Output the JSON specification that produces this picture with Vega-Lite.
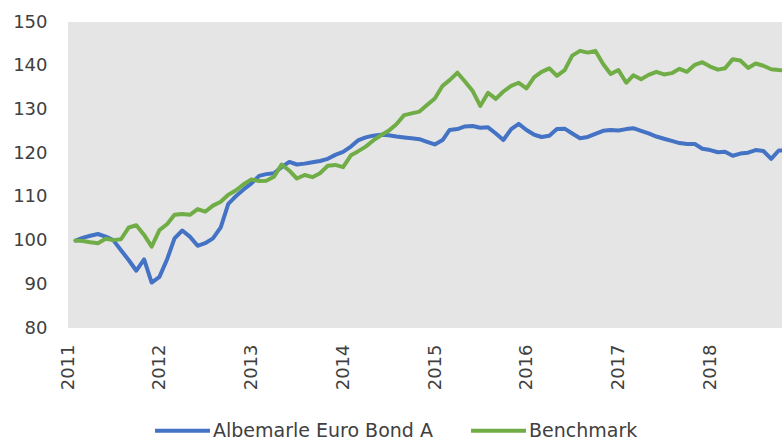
{
  "$schema": "https://vega.github.io/schema/vega-lite/v6.json",
  "autosize": {"type": "none"},
  "width": 714,
  "height": 306,
  "padding": {"left": 68, "top": 22, "right": 0, "bottom": 111},
  "background": "white",
  "view": {"fill": "#e5e5e5", "stroke": null},
  "config": {
    "font": "DejaVu Sans",
    "axis": {"labelFont": "DejaVu Sans", "labelFontSize": 18, "labelColor": "#404040", "domain": false, "ticks": false, "grid": false, "title": null},
    "legend": {"labelFont": "DejaVu Sans", "labelFontSize": 19, "labelColor": "#404040", "labelLimit": 400}
  },
  "data": {"values": [
    {"date":"2011-01-31","s":"Albemarle Euro Bond A","v":100.0},{"date":"2011-01-31","s":"Benchmark","v":100.0},
    {"date":"2011-02-28","s":"Albemarle Euro Bond A","v":100.6},{"date":"2011-02-28","s":"Benchmark","v":99.9},
    {"date":"2011-03-31","s":"Albemarle Euro Bond A","v":101.1},{"date":"2011-03-31","s":"Benchmark","v":99.6},
    {"date":"2011-04-30","s":"Albemarle Euro Bond A","v":101.5},{"date":"2011-04-30","s":"Benchmark","v":99.4},
    {"date":"2011-05-31","s":"Albemarle Euro Bond A","v":100.9},{"date":"2011-05-31","s":"Benchmark","v":100.4},
    {"date":"2011-06-30","s":"Albemarle Euro Bond A","v":100.1},{"date":"2011-06-30","s":"Benchmark","v":100.1},
    {"date":"2011-07-31","s":"Albemarle Euro Bond A","v":97.8},{"date":"2011-07-31","s":"Benchmark","v":100.3},
    {"date":"2011-08-31","s":"Albemarle Euro Bond A","v":95.5},{"date":"2011-08-31","s":"Benchmark","v":103.0},
    {"date":"2011-09-30","s":"Albemarle Euro Bond A","v":93.1},{"date":"2011-09-30","s":"Benchmark","v":103.5},
    {"date":"2011-10-31","s":"Albemarle Euro Bond A","v":95.7},{"date":"2011-10-31","s":"Benchmark","v":101.3},
    {"date":"2011-11-30","s":"Albemarle Euro Bond A","v":90.4},{"date":"2011-11-30","s":"Benchmark","v":98.6},
    {"date":"2011-12-31","s":"Albemarle Euro Bond A","v":91.7},{"date":"2011-12-31","s":"Benchmark","v":102.4},
    {"date":"2012-01-31","s":"Albemarle Euro Bond A","v":95.8},{"date":"2012-01-31","s":"Benchmark","v":103.8},
    {"date":"2012-02-29","s":"Albemarle Euro Bond A","v":100.5},{"date":"2012-02-29","s":"Benchmark","v":105.9},
    {"date":"2012-03-31","s":"Albemarle Euro Bond A","v":102.3},{"date":"2012-03-31","s":"Benchmark","v":106.1},
    {"date":"2012-04-30","s":"Albemarle Euro Bond A","v":100.9},{"date":"2012-04-30","s":"Benchmark","v":105.9},
    {"date":"2012-05-31","s":"Albemarle Euro Bond A","v":98.8},{"date":"2012-05-31","s":"Benchmark","v":107.2},
    {"date":"2012-06-30","s":"Albemarle Euro Bond A","v":99.4},{"date":"2012-06-30","s":"Benchmark","v":106.6},
    {"date":"2012-07-31","s":"Albemarle Euro Bond A","v":100.5},{"date":"2012-07-31","s":"Benchmark","v":108.0},
    {"date":"2012-08-31","s":"Albemarle Euro Bond A","v":103.0},{"date":"2012-08-31","s":"Benchmark","v":108.9},
    {"date":"2012-09-30","s":"Albemarle Euro Bond A","v":108.4},{"date":"2012-09-30","s":"Benchmark","v":110.5},
    {"date":"2012-10-31","s":"Albemarle Euro Bond A","v":110.2},{"date":"2012-10-31","s":"Benchmark","v":111.5},
    {"date":"2012-11-30","s":"Albemarle Euro Bond A","v":111.7},{"date":"2012-11-30","s":"Benchmark","v":112.9},
    {"date":"2012-12-31","s":"Albemarle Euro Bond A","v":113.1},{"date":"2012-12-31","s":"Benchmark","v":114.0},
    {"date":"2013-01-31","s":"Albemarle Euro Bond A","v":114.8},{"date":"2013-01-31","s":"Benchmark","v":113.6},
    {"date":"2013-02-28","s":"Albemarle Euro Bond A","v":115.2},{"date":"2013-02-28","s":"Benchmark","v":113.7},
    {"date":"2013-03-31","s":"Albemarle Euro Bond A","v":115.4},{"date":"2013-03-31","s":"Benchmark","v":114.6},
    {"date":"2013-04-30","s":"Albemarle Euro Bond A","v":116.8},{"date":"2013-04-30","s":"Benchmark","v":117.4},
    {"date":"2013-05-31","s":"Albemarle Euro Bond A","v":118.0},{"date":"2013-05-31","s":"Benchmark","v":116.0},
    {"date":"2013-06-30","s":"Albemarle Euro Bond A","v":117.4},{"date":"2013-06-30","s":"Benchmark","v":114.2},
    {"date":"2013-07-31","s":"Albemarle Euro Bond A","v":117.6},{"date":"2013-07-31","s":"Benchmark","v":115.0},
    {"date":"2013-08-31","s":"Albemarle Euro Bond A","v":117.9},{"date":"2013-08-31","s":"Benchmark","v":114.5},
    {"date":"2013-09-30","s":"Albemarle Euro Bond A","v":118.2},{"date":"2013-09-30","s":"Benchmark","v":115.4},
    {"date":"2013-10-31","s":"Albemarle Euro Bond A","v":118.7},{"date":"2013-10-31","s":"Benchmark","v":117.1},
    {"date":"2013-11-30","s":"Albemarle Euro Bond A","v":119.6},{"date":"2013-11-30","s":"Benchmark","v":117.3},
    {"date":"2013-12-31","s":"Albemarle Euro Bond A","v":120.3},{"date":"2013-12-31","s":"Benchmark","v":116.8},
    {"date":"2014-01-31","s":"Albemarle Euro Bond A","v":121.5},{"date":"2014-01-31","s":"Benchmark","v":119.5},
    {"date":"2014-02-28","s":"Albemarle Euro Bond A","v":122.9},{"date":"2014-02-28","s":"Benchmark","v":120.4},
    {"date":"2014-03-31","s":"Albemarle Euro Bond A","v":123.6},{"date":"2014-03-31","s":"Benchmark","v":121.5},
    {"date":"2014-04-30","s":"Albemarle Euro Bond A","v":124.0},{"date":"2014-04-30","s":"Benchmark","v":122.9},
    {"date":"2014-05-31","s":"Albemarle Euro Bond A","v":124.2},{"date":"2014-05-31","s":"Benchmark","v":124.1},
    {"date":"2014-06-30","s":"Albemarle Euro Bond A","v":124.1},{"date":"2014-06-30","s":"Benchmark","v":125.1},
    {"date":"2014-07-31","s":"Albemarle Euro Bond A","v":123.8},{"date":"2014-07-31","s":"Benchmark","v":126.6},
    {"date":"2014-08-31","s":"Albemarle Euro Bond A","v":123.6},{"date":"2014-08-31","s":"Benchmark","v":128.7},
    {"date":"2014-09-30","s":"Albemarle Euro Bond A","v":123.4},{"date":"2014-09-30","s":"Benchmark","v":129.1},
    {"date":"2014-10-31","s":"Albemarle Euro Bond A","v":123.2},{"date":"2014-10-31","s":"Benchmark","v":129.5},
    {"date":"2014-11-30","s":"Albemarle Euro Bond A","v":122.6},{"date":"2014-11-30","s":"Benchmark","v":131.0},
    {"date":"2014-12-31","s":"Albemarle Euro Bond A","v":122.0},{"date":"2014-12-31","s":"Benchmark","v":132.5},
    {"date":"2015-01-31","s":"Albemarle Euro Bond A","v":123.0},{"date":"2015-01-31","s":"Benchmark","v":135.4},
    {"date":"2015-02-28","s":"Albemarle Euro Bond A","v":125.3},{"date":"2015-02-28","s":"Benchmark","v":136.7},
    {"date":"2015-03-31","s":"Albemarle Euro Bond A","v":125.5},{"date":"2015-03-31","s":"Benchmark","v":138.4},
    {"date":"2015-04-30","s":"Albemarle Euro Bond A","v":126.1},{"date":"2015-04-30","s":"Benchmark","v":136.4},
    {"date":"2015-05-31","s":"Albemarle Euro Bond A","v":126.2},{"date":"2015-05-31","s":"Benchmark","v":134.2},
    {"date":"2015-06-30","s":"Albemarle Euro Bond A","v":125.8},{"date":"2015-06-30","s":"Benchmark","v":130.8},
    {"date":"2015-07-31","s":"Albemarle Euro Bond A","v":125.9},{"date":"2015-07-31","s":"Benchmark","v":133.8},
    {"date":"2015-08-31","s":"Albemarle Euro Bond A","v":124.5},{"date":"2015-08-31","s":"Benchmark","v":132.4},
    {"date":"2015-09-30","s":"Albemarle Euro Bond A","v":123.0},{"date":"2015-09-30","s":"Benchmark","v":134.1},
    {"date":"2015-10-31","s":"Albemarle Euro Bond A","v":125.5},{"date":"2015-10-31","s":"Benchmark","v":135.4},
    {"date":"2015-11-30","s":"Albemarle Euro Bond A","v":126.7},{"date":"2015-11-30","s":"Benchmark","v":136.1},
    {"date":"2015-12-31","s":"Albemarle Euro Bond A","v":125.3},{"date":"2015-12-31","s":"Benchmark","v":134.8},
    {"date":"2016-01-31","s":"Albemarle Euro Bond A","v":124.2},{"date":"2016-01-31","s":"Benchmark","v":137.4},
    {"date":"2016-02-29","s":"Albemarle Euro Bond A","v":123.7},{"date":"2016-02-29","s":"Benchmark","v":138.6},
    {"date":"2016-03-31","s":"Albemarle Euro Bond A","v":124.0},{"date":"2016-03-31","s":"Benchmark","v":139.4},
    {"date":"2016-04-30","s":"Albemarle Euro Bond A","v":125.5},{"date":"2016-04-30","s":"Benchmark","v":137.7},
    {"date":"2016-05-31","s":"Albemarle Euro Bond A","v":125.6},{"date":"2016-05-31","s":"Benchmark","v":139.0},
    {"date":"2016-06-30","s":"Albemarle Euro Bond A","v":124.5},{"date":"2016-06-30","s":"Benchmark","v":142.3},
    {"date":"2016-07-31","s":"Albemarle Euro Bond A","v":123.4},{"date":"2016-07-31","s":"Benchmark","v":143.4},
    {"date":"2016-08-31","s":"Albemarle Euro Bond A","v":123.7},{"date":"2016-08-31","s":"Benchmark","v":143.0},
    {"date":"2016-09-30","s":"Albemarle Euro Bond A","v":124.4},{"date":"2016-09-30","s":"Benchmark","v":143.4},
    {"date":"2016-10-31","s":"Albemarle Euro Bond A","v":125.1},{"date":"2016-10-31","s":"Benchmark","v":140.4},
    {"date":"2016-11-30","s":"Albemarle Euro Bond A","v":125.3},{"date":"2016-11-30","s":"Benchmark","v":138.1},
    {"date":"2016-12-31","s":"Albemarle Euro Bond A","v":125.2},{"date":"2016-12-31","s":"Benchmark","v":139.0},
    {"date":"2017-01-31","s":"Albemarle Euro Bond A","v":125.5},{"date":"2017-01-31","s":"Benchmark","v":136.1},
    {"date":"2017-02-28","s":"Albemarle Euro Bond A","v":125.7},{"date":"2017-02-28","s":"Benchmark","v":137.8},
    {"date":"2017-03-31","s":"Albemarle Euro Bond A","v":125.1},{"date":"2017-03-31","s":"Benchmark","v":136.9},
    {"date":"2017-04-30","s":"Albemarle Euro Bond A","v":124.5},{"date":"2017-04-30","s":"Benchmark","v":137.9},
    {"date":"2017-05-31","s":"Albemarle Euro Bond A","v":123.8},{"date":"2017-05-31","s":"Benchmark","v":138.6},
    {"date":"2017-06-30","s":"Albemarle Euro Bond A","v":123.3},{"date":"2017-06-30","s":"Benchmark","v":138.0},
    {"date":"2017-07-31","s":"Albemarle Euro Bond A","v":122.8},{"date":"2017-07-31","s":"Benchmark","v":138.3},
    {"date":"2017-08-31","s":"Albemarle Euro Bond A","v":122.3},{"date":"2017-08-31","s":"Benchmark","v":139.3},
    {"date":"2017-09-30","s":"Albemarle Euro Bond A","v":122.1},{"date":"2017-09-30","s":"Benchmark","v":138.6},
    {"date":"2017-10-31","s":"Albemarle Euro Bond A","v":122.1},{"date":"2017-10-31","s":"Benchmark","v":140.2},
    {"date":"2017-11-30","s":"Albemarle Euro Bond A","v":121.0},{"date":"2017-11-30","s":"Benchmark","v":140.8},
    {"date":"2017-12-31","s":"Albemarle Euro Bond A","v":120.7},{"date":"2017-12-31","s":"Benchmark","v":139.8},
    {"date":"2018-01-31","s":"Albemarle Euro Bond A","v":120.2},{"date":"2018-01-31","s":"Benchmark","v":139.1},
    {"date":"2018-02-28","s":"Albemarle Euro Bond A","v":120.3},{"date":"2018-02-28","s":"Benchmark","v":139.4},
    {"date":"2018-03-31","s":"Albemarle Euro Bond A","v":119.4},{"date":"2018-03-31","s":"Benchmark","v":141.5},
    {"date":"2018-04-30","s":"Albemarle Euro Bond A","v":119.9},{"date":"2018-04-30","s":"Benchmark","v":141.2},
    {"date":"2018-05-31","s":"Albemarle Euro Bond A","v":120.1},{"date":"2018-05-31","s":"Benchmark","v":139.5},
    {"date":"2018-06-30","s":"Albemarle Euro Bond A","v":120.7},{"date":"2018-06-30","s":"Benchmark","v":140.5},
    {"date":"2018-07-31","s":"Albemarle Euro Bond A","v":120.5},{"date":"2018-07-31","s":"Benchmark","v":140.0},
    {"date":"2018-08-31","s":"Albemarle Euro Bond A","v":118.7},{"date":"2018-08-31","s":"Benchmark","v":139.2},
    {"date":"2018-09-30","s":"Albemarle Euro Bond A","v":120.6},{"date":"2018-09-30","s":"Benchmark","v":139.0},
    {"date":"2018-10-31","s":"Albemarle Euro Bond A","v":120.6},{"date":"2018-10-31","s":"Benchmark","v":138.9}
  ]},
  "mark": {"type": "line", "strokeWidth": 4, "strokeJoin": "round", "strokeCap": "round", "clip": true},
  "encoding": {
    "x": {
      "field": "date", "type": "temporal",
      "scale": {"type": "utc", "domain": [{"year": 2011, "month": 1, "date": 1, "utc": true}, {"year": 2018, "month": 10, "date": 13, "utc": true}], "nice": false},
      "axis": {
        "values": [
          {"year": 2011, "month": 1, "date": 1, "utc": true},
          {"year": 2012, "month": 1, "date": 1, "utc": true},
          {"year": 2013, "month": 1, "date": 1, "utc": true},
          {"year": 2014, "month": 1, "date": 1, "utc": true},
          {"year": 2015, "month": 1, "date": 1, "utc": true},
          {"year": 2016, "month": 1, "date": 1, "utc": true},
          {"year": 2017, "month": 1, "date": 1, "utc": true},
          {"year": 2018, "month": 1, "date": 1, "utc": true}
        ],
        "labelExpr": "utcFormat(datum.value, '%Y')",
        "labelAngle": -90, "labelAlign": "right", "labelBaseline": "middle",
        "labelPadding": 16, "labelFlush": false, "labelOverlap": false
      }
    },
    "y": {
      "field": "v", "type": "quantitative",
      "scale": {"domain": [80, 150], "nice": false, "zero": false},
      "axis": {"values": [80, 90, 100, 110, 120, 130, 140, 150], "labelPadding": 21, "labelFlush": false}
    },
    "color": {
      "field": "s", "type": "nominal",
      "scale": {"domain": ["Albemarle Euro Bond A", "Benchmark"], "range": ["#4472C4", "#70AD47"]},
      "legend": {
        "title": null, "orient": "none", "direction": "horizontal",
        "legendX": 85, "legendY": 379, "padding": 0,
        "symbolType": "stroke", "symbolSize": 3025, "symbolStrokeWidth": 4,
        "labelOffset": 1, "columnPadding": 30, "labelLimit": 400
      }
    }
  }
}
